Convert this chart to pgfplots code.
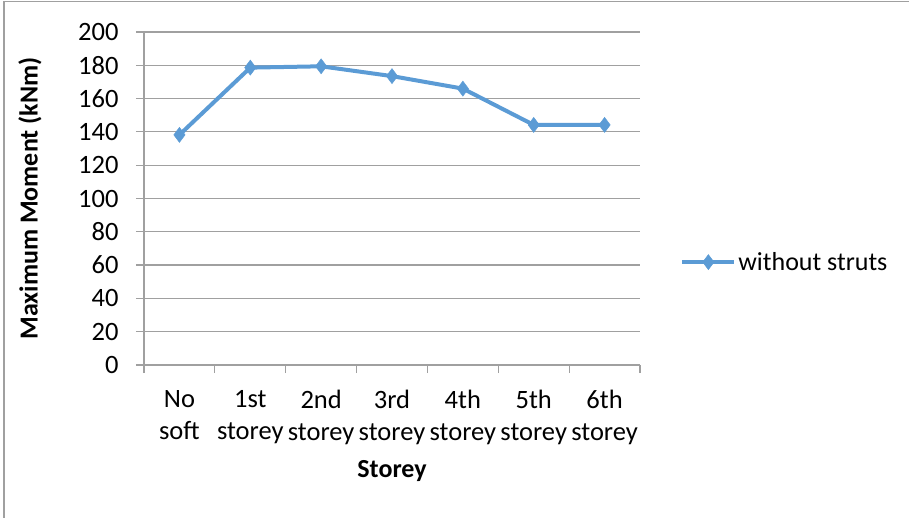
\documentclass[border=0pt]{standalone}
\usepackage{pgfplots}
\pgfplotsset{compat=1.18}
\usepackage{fontspec}
\setmainfont{Carlito}
\definecolor{serblue}{RGB}{91,155,213}
\definecolor{gridgray}{RGB}{160,160,160}
\begin{document}
\begin{tikzpicture}
\useasboundingbox (0,0) rectangle (909bp,518bp);
\draw[gridgray, line width=1.2bp] (4bp,0) -- (4bp,516.5bp) -- (909bp,516.5bp);
\begin{axis}[
  at={(144bp,153bp)}, anchor=south west,
  scale only axis, width=496bp, height=333bp,
  xmin=-0.5, xmax=6.5, ymin=0, ymax=200,
  ytick={0,20,...,200},
  xtick={0,...,6},
  xticklabels={No\\soft, 1st\\storey, 2nd\\storey, 3rd\\storey, 4th\\storey, 5th\\storey, 6th\\storey},
  minor xtick={-0.5,0.5,...,6.5},
  major x tick style={draw=none},
  tick align=outside,
  major tick length=8bp, minor tick length=8bp,
  tick style={gridgray, line width=1.2bp},
  ymajorgrids, grid style={gridgray, line width=1.2bp},
  axis x line*=bottom, axis y line*=left,
  axis line style={gridgray, line width=1.2bp, -},
  /pgf/number format/assume math mode=true,
  tick label style={font=\fontsize{26.5bp}{32bp}\selectfont, text=black},
  xticklabel style={align=center, yshift=-14bp},
  yticklabel style={xshift=-14bp},
  ylabel={\bfseries Maximum Moment (kNm)},
  xlabel={\bfseries Storey},
  label style={font=\fontsize{26bp}{30bp}\selectfont},
  ylabel style={at={(axis description cs:-0.23,0.5)}, anchor=center},
  xlabel style={yshift=-8bp},
  legend style={at={(axis description cs:1.081,0.309)}, anchor=west, draw=none, fill=none,
    font=\fontsize{26bp}{30bp}\selectfont, inner sep=0pt},
  legend cell align=left,
  legend image code/.code={\draw[mark repeat=2,mark phase=2,#1] plot coordinates {(0bp,0bp) (26bp,0bp) (52bp,0bp)};},
]
\addplot[serblue, line width=4bp, mark=diamond*, mark size=7.5bp,
  mark options={fill=serblue, draw=serblue, line width=0.5bp}]
  coordinates {(0,138.2) (1,178.6) (2,179.4) (3,173.5) (4,166) (5,144.2) (6,144.2)};
\addlegendentry{without struts}
\end{axis}
\end{tikzpicture}
\end{document}
